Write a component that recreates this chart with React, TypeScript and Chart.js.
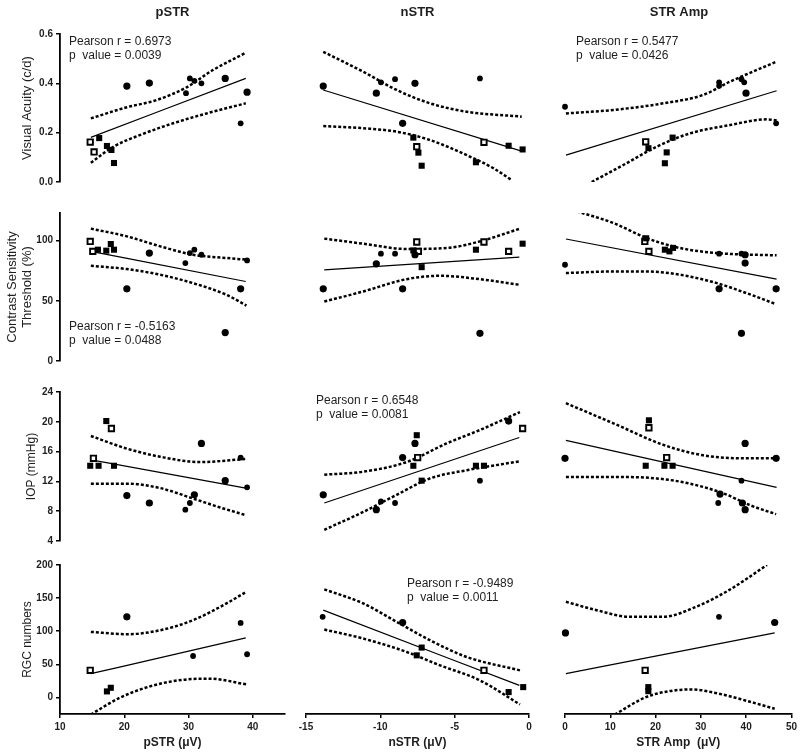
import React, { useEffect, useRef } from "react";
import { Chart, registerables } from "chart.js";
Chart.register(...registerables);

type Pt = [number, number];

// ---------- categories, titles, ticks ----------
const COLUMN_TITLES = ["pSTR", "nSTR", "STR Amp"];
const X_TITLES = ["pSTR (μV)", "nSTR (μV)", "STR Amp  (μV)"];
const Y_TITLES: (string | string[])[] = [
  "Visual Acuity (c/d)",
  ["Contrast Sensitivity", "Threshold (%)"],
  "IOP (mmHg)",
  "RGC numbers",
];
const X_TICKS = [[10, 20, 30, 40], [-15, -10, -5, 0], [0, 10, 20, 30, 40, 50]];
const X_RANGES: Pt[] = [[10, 45], [-15, 0], [0, 50]];
const Y_TICKS = [[0, 0.2, 0.4, 0.6], [0, 50, 100], [4, 8, 12, 16, 20, 24], [0, 50, 100, 150, 200]];
const Y_RANGES: Pt[] = [[0, 0.6], [0, 123], [4, 24], [-25, 200]];

// ---------- Visual acuity ----------
const VA_P_CIRCLES: Pt[] = [[20.4, 0.389], [23.9, 0.401], [35.7, 0.42], [39.1, 0.364]];
const VA_P_DOTS: Pt[] = [[29.6, 0.36], [30.2, 0.42], [30.9, 0.41], [32.0, 0.40], [38.1, 0.238]];
const VA_P_SQUARES: Pt[] = [[16.1, 0.178], [17.3, 0.146], [18.0, 0.13], [18.4, 0.077]];
const VA_P_OPEN: Pt[] = [[14.7, 0.162], [15.3, 0.122]];
const VA_P_FIT: Pt[] = [[14.8, 0.181], [38.9, 0.42]];
const VA_P_UPPER: Pt[] = [[14.8, 0.258], [20.4, 0.303], [25.0, 0.332], [29.7, 0.384], [33.8, 0.454], [38.9, 0.524]];
const VA_P_LOWER: Pt[] = [[14.8, 0.078], [18.3, 0.143], [22.4, 0.19], [27.6, 0.238], [32.8, 0.278], [38.9, 0.319]];

const VA_N_CIRCLES: Pt[] = [[-13.84, 0.389], [-7.67, 0.40], [-8.5, 0.238], [-10.27, 0.36]];
const VA_N_DOTS: Pt[] = [[-9.96, 0.404], [-9.01, 0.417], [-3.3, 0.42]];
const VA_N_SQUARES: Pt[] = [[-7.78, 0.18], [-7.44, 0.119], [-7.22, 0.066], [-3.57, 0.08], [-1.37, 0.147], [-0.43, 0.132]];
const VA_N_OPEN: Pt[] = [[-7.55, 0.143], [-3.03, 0.161]];
const VA_N_FIT: Pt[] = [[-13.84, 0.373], [-0.39, 0.123]];
const VA_N_UPPER: Pt[] = [[-13.84, 0.528], [-11.15, 0.447], [-8.9, 0.373], [-6.66, 0.319], [-4.19, 0.285], [-0.49, 0.265]];
const VA_N_LOWER: Pt[] = [[-13.84, 0.227], [-11.15, 0.218], [-8.9, 0.204], [-6.66, 0.17], [-4.19, 0.109], [-2.4, 0.056], [-1.17, 0.008]];

const VA_A_CIRCLES: Pt[] = [[39.7, 0.36]];
const VA_A_DOTS: Pt[] = [[0.0, 0.305], [33.8, 0.404], [33.8, 0.39], [38.7, 0.417], [39.3, 0.404], [46.3, 0.238]];
const VA_A_SQUARES: Pt[] = [[18.3, 0.137], [23.6, 0.18], [22.3, 0.12], [21.9, 0.076]];
const VA_A_OPEN: Pt[] = [[17.7, 0.163]];
const VA_A_FIT: Pt[] = [[0.2, 0.109], [46.4, 0.37]];
const VA_A_UPPER: Pt[] = [[0.2, 0.278], [10.6, 0.292], [21.6, 0.319], [30.3, 0.353], [36.2, 0.407], [46.4, 0.488]];
const VA_A_LOWER: Pt[] = [[5.85, 0.0], [12.8, 0.069], [20.1, 0.143], [27.4, 0.197], [36.2, 0.231], [44.2, 0.254], [46.4, 0.25]];

// ---------- Contrast sensitivity ----------
const CS_P_CIRCLES: Pt[] = [[20.4, 60], [23.9, 89.7], [35.7, 23.6], [38.1, 60]];
const CS_P_DOTS: Pt[] = [[29.5, 81.4], [30.2, 89.7], [30.9, 92.5], [32.0, 88.3], [39.1, 83.6]];
const CS_P_SQUARES: Pt[] = [[15.9, 92.5], [17.2, 91.7], [17.9, 97.2], [18.4, 92.5]];
const CS_P_OPEN: Pt[] = [[14.7, 99.4], [15.1, 91.1]];
const CS_P_FIT: Pt[] = [[14.8, 91.1], [38.9, 66.1]];
const CS_P_UPPER: Pt[] = [[14.8, 110], [20.4, 103.6], [25.6, 95.3], [30.7, 88.3], [35.9, 85.6], [39.0, 84.2]];
const CS_P_LOWER: Pt[] = [[14.8, 79.2], [20.4, 76.4], [25.6, 71.7], [30.7, 64.7], [35.9, 55], [39.0, 46.1]];

const CS_N_CIRCLES: Pt[] = [[-13.84, 60], [-10.27, 80.8], [-8.5, 60], [-7.67, 88.3], [-3.3, 23]];
const CS_N_DOTS: Pt[] = [[-9.96, 89.2], [-9.01, 89.2]];
const CS_N_SQUARES: Pt[] = [[-7.78, 91.9], [-7.22, 78], [-3.57, 92.5], [-0.43, 97.5]];
const CS_N_OPEN: Pt[] = [[-7.55, 98.9], [-7.44, 91.1], [-3.03, 98.9], [-1.37, 91.1]];
const CS_N_FIT: Pt[] = [[-13.77, 75.8], [-0.65, 86.4]];
const CS_N_UPPER: Pt[] = [[-13.77, 101.7], [-11.15, 97.5], [-8.23, 93.1], [-5.54, 93.9], [-3.3, 99.4], [-0.61, 110]];
const CS_N_LOWER: Pt[] = [[-13.77, 49.4], [-11.15, 57.8], [-8.23, 68], [-5.99, 70.8], [-3.3, 68], [-0.61, 63.3]];

const CS_A_CIRCLES: Pt[] = [[33.8, 60], [39.5, 88.3], [39.5, 81.4], [38.7, 23], [46.3, 60]];
const CS_A_DOTS: Pt[] = [[0, 80], [33.8, 89.2], [38.7, 89.2]];
const CS_A_SQUARES: Pt[] = [[17.8, 102], [21.9, 92.5], [22.9, 91.1], [23.7, 94]];
const CS_A_OPEN: Pt[] = [[17.5, 99.4], [18.4, 91.1]];
const CS_A_FIT: Pt[] = [[0.2, 101.4], [46.4, 68]];
const CS_A_UPPER: Pt[] = [[2.6, 124.4], [10.6, 114.7], [17.9, 102.2], [25.2, 93.9], [33.3, 89.7], [46.4, 87.8]];
const CS_A_LOWER: Pt[] = [[0.2, 73.1], [10.6, 74.4], [17.9, 74.4], [25.2, 71.7], [33.3, 64.7], [39.8, 56.4], [46.1, 47.5]];

// ---------- IOP ----------
const IOP_P_CIRCLES: Pt[] = [[20.4, 10.1], [23.9, 9.1], [30.9, 10.2], [32.0, 17.1], [35.7, 12.1]];
const IOP_P_DOTS: Pt[] = [[29.5, 8.2], [30.2, 9.1], [38.1, 15.2], [39.1, 11.2]];
const IOP_P_SQUARES: Pt[] = [[14.7, 14.1], [16.0, 14.1], [17.2, 20.1], [18.4, 14.1]];
const IOP_P_OPEN: Pt[] = [[15.2, 15.1], [18.0, 19.1]];
const IOP_P_FIT: Pt[] = [[14.8, 14.9], [38.9, 11.1]];
const IOP_P_UPPER: Pt[] = [[14.8, 18.1], [20.4, 16.4], [25.6, 15.3], [31.8, 14.6], [38.9, 15.0]];
const IOP_P_LOWER: Pt[] = [[14.8, 11.7], [20.4, 11.7], [25.6, 11.1], [30.7, 9.7], [34.9, 8.5], [38.8, 7.5]];

const IOP_N_CIRCLES: Pt[] = [[-13.84, 10.2], [-10.27, 8.2], [-8.5, 15.2], [-7.67, 17.1], [-1.37, 20.1]];
const IOP_N_DOTS: Pt[] = [[-9.96, 9.3], [-9.01, 9.1], [-3.3, 12.1]];
const IOP_N_SQUARES: Pt[] = [[-7.55, 18.2], [-7.78, 14.1], [-7.22, 12.1], [-3.57, 14.1], [-3.03, 14.1]];
const IOP_N_OPEN: Pt[] = [[-7.49, 15.2], [-0.43, 19.1]];
const IOP_N_FIT: Pt[] = [[-13.77, 9.1], [-0.65, 17.9]];
const IOP_N_UPPER: Pt[] = [[-13.77, 12.9], [-11.15, 13.3], [-8.23, 14.6], [-5.54, 17.1], [-3.3, 18.9], [-0.61, 21.3]];
const IOP_N_LOWER: Pt[] = [[-13.77, 5.5], [-11.15, 7.9], [-8.9, 10.2], [-6.66, 12.4], [-4.19, 13.5], [-0.61, 14.7]];

const IOP_A_CIRCLES: Pt[] = [[0, 15.1], [39.5, 17.1], [46.3, 15.1], [34.0, 10.3], [38.9, 9.1], [39.5, 8.2]];
const IOP_A_DOTS: Pt[] = [[38.7, 12.1], [33.6, 9.1]];
const IOP_A_SQUARES: Pt[] = [[18.4, 20.2], [17.7, 14.1], [21.8, 14.1], [23.6, 14.1]];
const IOP_A_OPEN: Pt[] = [[18.4, 19.2], [22.3, 15.2]];
const IOP_A_FIT: Pt[] = [[0.2, 17.5], [46.4, 11.2]];
const IOP_A_UPPER: Pt[] = [[0.2, 22.5], [10.6, 19.8], [21.6, 16.9], [30.3, 15.5], [39.1, 15.1], [46.4, 15.1]];
const IOP_A_LOWER: Pt[] = [[0.2, 12.6], [10.6, 12.6], [20.1, 12.4], [27.4, 11.7], [34.7, 10.4], [40.6, 8.8], [46.3, 7.6]];

// ---------- RGC numbers ----------
const RGC_P_CIRCLES: Pt[] = [[20.4, 121.7]];
const RGC_P_DOTS: Pt[] = [[30.7, 62.6], [38.1, 112.6], [39.1, 65.2]];
const RGC_P_SQUARES: Pt[] = [[17.3, 9.1], [17.9, 14.6]];
const RGC_P_OPEN: Pt[] = [[14.7, 40.9]];
const RGC_P_FIT: Pt[] = [[14.8, 35.9], [38.9, 89.9]];
const RGC_P_UPPER: Pt[] = [[14.8, 99], [20.4, 95.5], [25.6, 101.5], [30.7, 116.7], [35.9, 142], [39.0, 159.6]];
const RGC_P_LOWER: Pt[] = [[14.8, -25.7], [19.3, -0.5], [24.0, 16.7], [29.2, 26.8], [33.3, 28.3], [39.0, 19.7]];

const RGC_N_CIRCLES: Pt[] = [[-8.5, 113.2]];
const RGC_N_DOTS: Pt[] = [[-13.88, 121.7]];
const RGC_N_SQUARES: Pt[] = [[-7.22, 75.3], [-7.55, 63.6], [-1.37, 8.1], [-0.39, 15.6]];
const RGC_N_OPEN: Pt[] = [[-3.03, 40.9]];
const RGC_N_FIT: Pt[] = [[-13.84, 131.8], [-0.65, 18.2]];
const RGC_N_UPPER: Pt[] = [[-13.77, 163.2], [-11.15, 142], [-8.9, 114.1], [-6.66, 86.4], [-4.19, 61.1], [-0.61, 40.9]];
const RGC_N_LOWER: Pt[] = [[-13.77, 102.5], [-11.15, 88.9], [-8.23, 68.7], [-5.99, 48.5], [-3.3, 25.8], [-0.61, -10.6]];

const RGC_A_CIRCLES: Pt[] = [[0.1, 97.5], [46.3, 113.2]];
const RGC_A_DOTS: Pt[] = [[34.0, 121.7]];
const RGC_A_SQUARES: Pt[] = [[18.4, 15.6], [18.4, 9.5]];
const RGC_A_OPEN: Pt[] = [[17.7, 40.9]];
const RGC_A_FIT: Pt[] = [[0.2, 35.9], [46.3, 97.5]];
const RGC_A_UPPER: Pt[] = [[0.2, 144.4], [7.0, 131.8], [14.3, 121.7], [21.6, 121.7], [28.9, 136.8], [36.2, 162], [44.6, 200]];
const RGC_A_LOWER: Pt[] = [[11.0, -25.7], [17.9, 0.5], [23.0, 9.5], [28.1, 12.1], [34.0, 5.6], [39.8, -4.5], [46.3, -17.1]];

// ---------- statistics labels ----------
const STATS_VA_P = ["Pearson r = 0.6973", "p  value = 0.0039"];
const STATS_VA_A = ["Pearson r = 0.5477", "p  value = 0.0426"];
const STATS_CS_P = ["Pearson r = -0.5163", "p  value = 0.0488"];
const STATS_IOP_N = ["Pearson r = 0.6548", "p  value = 0.0081"];
const STATS_RGC_N = ["Pearson r = -0.9489", "p  value = 0.0011"];

// ---------- table built from the arrays ----------
type PanelData = { circles: Pt[]; dots: Pt[]; squares: Pt[]; open: Pt[]; fit: Pt[]; upper: Pt[]; lower: Pt[] };
const P = (circles: Pt[], dots: Pt[], squares: Pt[], open: Pt[], fit: Pt[], upper: Pt[], lower: Pt[]): PanelData => ({
  circles, dots, squares, open, fit, upper, lower,
});
const PANELS: PanelData[][] = [
  [
    P(VA_P_CIRCLES, VA_P_DOTS, VA_P_SQUARES, VA_P_OPEN, VA_P_FIT, VA_P_UPPER, VA_P_LOWER),
    P(VA_N_CIRCLES, VA_N_DOTS, VA_N_SQUARES, VA_N_OPEN, VA_N_FIT, VA_N_UPPER, VA_N_LOWER),
    P(VA_A_CIRCLES, VA_A_DOTS, VA_A_SQUARES, VA_A_OPEN, VA_A_FIT, VA_A_UPPER, VA_A_LOWER),
  ],
  [
    P(CS_P_CIRCLES, CS_P_DOTS, CS_P_SQUARES, CS_P_OPEN, CS_P_FIT, CS_P_UPPER, CS_P_LOWER),
    P(CS_N_CIRCLES, CS_N_DOTS, CS_N_SQUARES, CS_N_OPEN, CS_N_FIT, CS_N_UPPER, CS_N_LOWER),
    P(CS_A_CIRCLES, CS_A_DOTS, CS_A_SQUARES, CS_A_OPEN, CS_A_FIT, CS_A_UPPER, CS_A_LOWER),
  ],
  [
    P(IOP_P_CIRCLES, IOP_P_DOTS, IOP_P_SQUARES, IOP_P_OPEN, IOP_P_FIT, IOP_P_UPPER, IOP_P_LOWER),
    P(IOP_N_CIRCLES, IOP_N_DOTS, IOP_N_SQUARES, IOP_N_OPEN, IOP_N_FIT, IOP_N_UPPER, IOP_N_LOWER),
    P(IOP_A_CIRCLES, IOP_A_DOTS, IOP_A_SQUARES, IOP_A_OPEN, IOP_A_FIT, IOP_A_UPPER, IOP_A_LOWER),
  ],
  [
    P(RGC_P_CIRCLES, RGC_P_DOTS, RGC_P_SQUARES, RGC_P_OPEN, RGC_P_FIT, RGC_P_UPPER, RGC_P_LOWER),
    P(RGC_N_CIRCLES, RGC_N_DOTS, RGC_N_SQUARES, RGC_N_OPEN, RGC_N_FIT, RGC_N_UPPER, RGC_N_LOWER),
    P(RGC_A_CIRCLES, RGC_A_DOTS, RGC_A_SQUARES, RGC_A_OPEN, RGC_A_FIT, RGC_A_UPPER, RGC_A_LOWER),
  ],
];

// ---------- layout (pixels) ----------
const W = 800;
const H = 755;
const COL_LEFT = [60, 306, 565];
const COL_RIGHT = [285, 529, 793];
const ROW_TOP = [34, 213, 392, 565];
const ROW_BOTTOM = [182, 361, 541, 714];
const Y_TITLE_PAD = [20, 4.5, 25, 21];
const Y_TITLE_SIZE = [13, 13, 12, 12];
const STAT_LABELS = [
  { row: 0, col: 0, lines: STATS_VA_P, x: 69, y: 42 },
  { row: 0, col: 2, lines: STATS_VA_A, x: 576, y: 42 },
  { row: 1, col: 0, lines: STATS_CS_P, x: 69, y: 327 },
  { row: 2, col: 1, lines: STATS_IOP_N, x: 316, y: 401 },
  { row: 3, col: 1, lines: STATS_RGC_N, x: 407, y: 584 },
];
const FONT = "'Liberation Sans', Arial, sans-serif";
const INK = "#1e1e1e";

const toXY = (a: Pt[]) => a.map(([x, y]) => ({ x, y }));

function Panel({ r, c }: { r: number; c: number }) {
  const ref = useRef<HTMLCanvasElement>(null);
  useEffect(() => {
    const d = PANELS[r][c];
    const showX = r === 3;
    const showY = c === 0;
    const texts: { text: string; x: number; y: number; font: string; align: CanvasTextAlign }[] = [];
    if (r === 0) {
      texts.push({
        text: COLUMN_TITLES[c],
        x: (COL_LEFT[c] + COL_RIGHT[c]) / 2,
        y: 12,
        font: `bold 13px ${FONT}`,
        align: "center",
      });
    }
    STAT_LABELS.filter((s) => s.row === r && s.col === c).forEach((s) => {
      s.lines.forEach((ln, i) =>
        texts.push({ text: ln, x: s.x, y: s.y + i * 14, font: `12px ${FONT}`, align: "left" })
      );
    });
    const textPlugin = {
      id: "panelText",
      afterDraw(chart: any) {
        const ctx = chart.ctx as CanvasRenderingContext2D;
        ctx.save();
        ctx.fillStyle = INK;
        ctx.textBaseline = "middle";
        texts.forEach((t) => {
          ctx.font = t.font;
          ctx.textAlign = t.align;
          ctx.fillText(t.text, t.x, t.y);
        });
        ctx.restore();
      },
    };

    const pointSet = (data: Pt[], style: string, radius: number, fill: string, bw: number) => ({
      data: toXY(data),
      showLine: false,
      pointStyle: style,
      pointRadius: radius,
      pointBackgroundColor: fill,
      pointBorderColor: "#000",
      pointBorderWidth: bw,
      backgroundColor: fill,
      borderColor: "#000",
      clip: false,
    });
    const lineSet = (data: Pt[], width: number, dash: number[]) => ({
      data: toXY(data),
      showLine: true,
      pointRadius: 0,
      borderColor: "#000",
      borderWidth: width,
      borderDash: dash,
      cubicInterpolationMode: "monotone",
      fill: false,
    });

    const chart = new Chart(ref.current as HTMLCanvasElement, {
      type: "scatter",
      data: {
        datasets: [
          pointSet(d.circles, "circle", 3.6, "#000", 0),
          pointSet(d.dots, "circle", 2.9, "#000", 0),
          pointSet(d.squares, "rect", 4.3, "#000", 0),
          pointSet(d.open, "rect", 3.8, "#fff", 1.9),
          lineSet(d.fit, 1.2, []),
          lineSet(d.upper, 2.5, [3, 2]),
          lineSet(d.lower, 2.5, [3, 2]),
        ] as any,
      },
      plugins: [textPlugin],
      options: {
        animation: false,
        responsive: false,
        events: [],
        layout: {
          autoPadding: false,
          padding: {
            left: showY ? 0 : COL_LEFT[c],
            right: W - COL_RIGHT[c],
            top: ROW_TOP[r],
            bottom: showX ? 0 : H - ROW_BOTTOM[r],
          },
        },
        plugins: { legend: { display: false }, tooltip: { enabled: false }, title: { display: false } },
        scales: {
          x: {
            type: "linear",
            min: X_RANGES[c][0],
            max: X_RANGES[c][1],
            display: showX,
            afterBuildTicks: (s: any) => {
              s.ticks = X_TICKS[c].map((v) => ({ value: v }));
            },
            afterFit: (s: any) => {
              if (showX) s.height = H - ROW_BOTTOM[r];
            },
            grid: { display: true, drawOnChartArea: false, drawTicks: true, tickLength: 4, color: "#000", lineWidth: 1.5 },
            border: { display: true, color: "#000", width: 1.8 },
            ticks: {
              autoSkip: false,
              maxRotation: 0,
              padding: 3,
              color: INK,
              font: { family: FONT, size: 10, weight: "bold" },
              callback: (v: any) => String(v),
            },
            title: {
              display: true,
              text: X_TITLES[c],
              color: INK,
              font: { family: FONT, size: 12, weight: "bold" },
              padding: { top: 0, bottom: 5 },
            },
          },
          y: {
            type: "linear",
            min: Y_RANGES[r][0],
            max: Y_RANGES[r][1],
            display: showY,
            afterBuildTicks: (s: any) => {
              s.ticks = Y_TICKS[r].map((v) => ({ value: v }));
            },
            afterFit: (s: any) => {
              if (showY) s.width = COL_LEFT[0];
            },
            grid: { display: true, drawOnChartArea: false, drawTicks: true, tickLength: 4, color: "#000", lineWidth: 1.5 },
            border: { display: true, color: "#000", width: 1.8 },
            ticks: {
              autoSkip: false,
              padding: 3,
              color: INK,
              font: { family: FONT, size: 10, weight: "bold" },
              callback: (v: any) => (r === 0 ? Number(v).toFixed(1) : String(v)),
            },
            title: {
              display: true,
              text: Y_TITLES[r],
              color: INK,
              font: { family: FONT, size: Y_TITLE_SIZE[r], lineHeight: 1.15 },
              padding: { top: Y_TITLE_PAD[r], bottom: 0 },
            },
          },
        },
      } as any,
    });
    return () => chart.destroy();
  }, [r, c]);
  return (
    <canvas
      ref={ref}
      width={W}
      height={H}
      style={{ position: "absolute", left: 0, top: 0, width: W, height: H }}
    />
  );
}

export default function App() {
  const cells: JSX.Element[] = [];
  for (let r = 0; r < 4; r++) for (let c = 0; c < 3; c++) cells.push(<Panel key={`${r}-${c}`} r={r} c={c} />);
  return (
    <div style={{ position: "absolute", left: 0, top: 0, width: W, height: H, background: "#fff" }}>{cells}</div>
  );
}
